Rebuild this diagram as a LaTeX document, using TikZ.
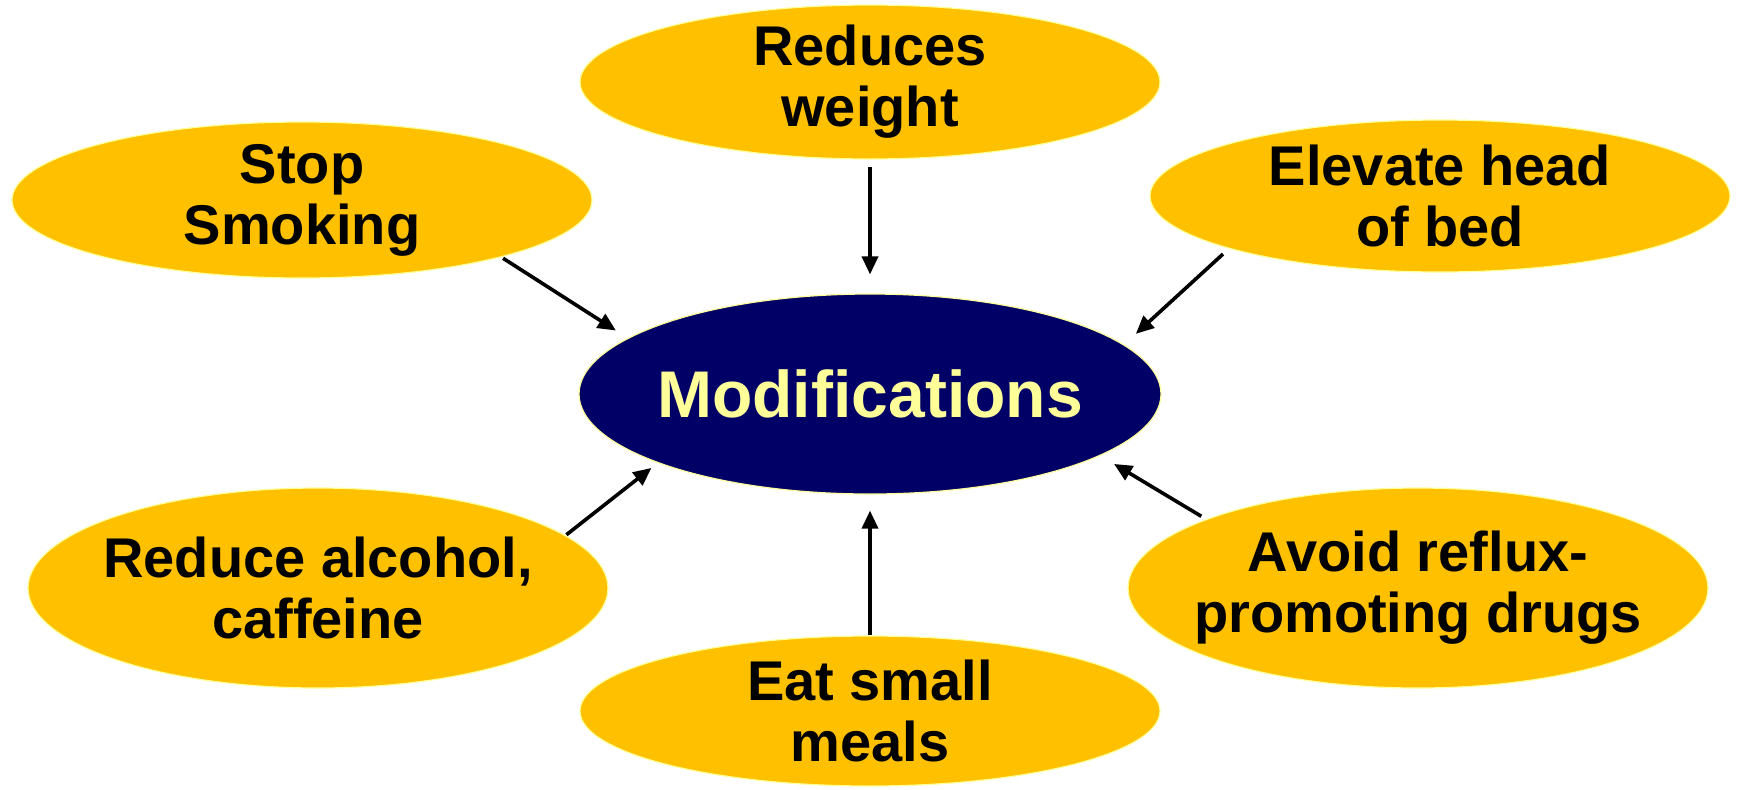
\documentclass[tikz,border=0pt]{standalone}
\usepackage{fontspec}
\setmainfont{Liberation Sans}
\usetikzlibrary{arrows.meta,shapes.geometric}
\definecolor{gold}{HTML}{FFC000}
\definecolor{navy}{HTML}{000066}
\definecolor{paleyel}{HTML}{FFFF99}
\tikzset{
  tip/.style={ellipse,fill=gold,draw=paleyel,line width=0.6pt,minimum width=290pt,
    minimum height=77pt,inner sep=-12pt,align=center,font=\bfseries\fontsize{28}{30.5}\selectfont},
  hub/.style={ellipse,fill=navy,draw=paleyel,line width=0.6pt,minimum width=291pt,
    minimum height=100pt,inner sep=-12pt,text=paleyel,font=\bfseries\fontsize{33}{36}\selectfont},
  arrow/.style={-{Triangle[length=9pt,width=8pt]},line width=1.8pt}
}
\begin{document}
\begin{tikzpicture}[x=0.5pt,y=-0.5pt]
  \useasboundingbox (0,0) rectangle (1739,789);

  \node[hub] (M) at (870, 394) {Modifications};
  \node[tip] (W) at (870,  82) {Reduces\\weight};
  \node[tip,minimum height=78pt] (S) at (302, 200) {Stop\\Smoking};
  \node[tip,minimum height=76pt] (E) at (1440, 196) {Elevate head\\of bed};
  \node[tip,minimum height=100pt] (A) at (318, 588) {Reduce alcohol,\\caffeine};
  \node[tip,minimum height=100pt] (R) at (1418, 588) {Avoid reflux-\\promoting drugs};
  \node[tip,minimum height=75pt] (F) at (870, 711) {Eat small\\meals};

  \draw[arrow,shorten <=1pt,shorten >=7pt] (S.-16) -- (M.167.5);
  \draw[arrow,shorten <=3.5pt,shorten >=9.5pt] (W.south) -- (M.north);
  \draw[arrow,shorten <=4pt,shorten >=8pt] (E.-166) -- (M.11.3);
  \draw[arrow,shorten <=0.5pt,shorten >=4pt] (A.12) -- (M.-162.6);
  \draw[arrow,shorten <=0pt,shorten >=8pt] (F.north) -- (M.south);
  \draw[arrow,shorten <=2.8pt,shorten >=8pt] (R.162.6) -- (M.-15.8);

\end{tikzpicture}
\end{document}
